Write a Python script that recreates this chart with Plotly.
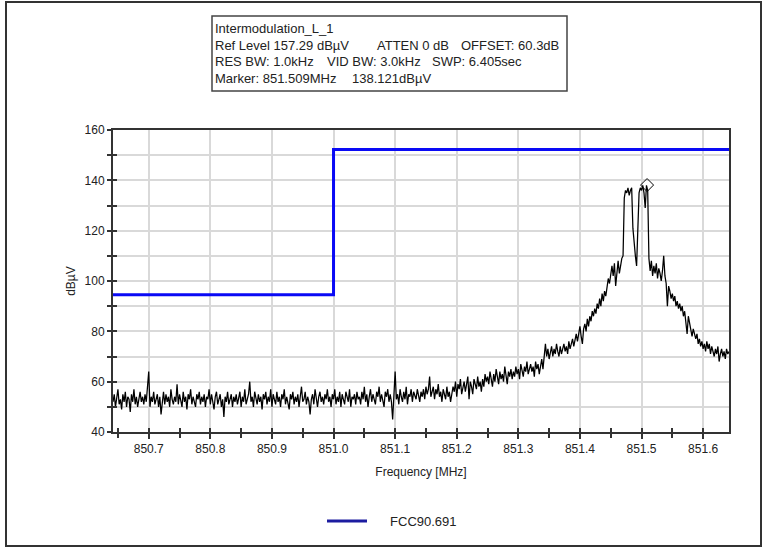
import plotly.graph_objects as go

# ---------------- data ----------------
freq_start = 850.642      # MHz, first sweep point
freq_step = 0.002         # MHz between sweep points

level_dbuv = [
    52, 55, 50, 54, 57, 51, 53, 49, 55, 52, 56, 50, 54, 53, 48, 55, 52, 57, 51, 54, 50, 53, 56, 52, 54,
    51, 55, 52, 57, 64, 50, 54, 52, 56, 51, 53, 55, 50, 54, 47, 53, 56, 51, 55, 52, 54, 50, 57, 53, 51,
    54, 52, 59, 51, 55, 53, 50, 56, 52, 54, 49, 55, 53, 57, 51, 54, 52, 50, 55, 53, 56, 51, 54, 52, 55,
    50, 54, 53, 57, 51, 55, 52, 49, 54, 56, 51, 53, 55, 50, 53, 46, 54, 52, 56, 51, 53, 55, 50, 54, 52,
    55, 51, 53, 56, 50, 54, 52, 57, 51, 53, 55, 60, 52, 54, 50, 56, 53, 51, 55, 52, 54, 49, 55, 53, 56,
    51, 54, 52, 57, 50, 55, 53, 51, 56, 52, 54, 50, 55, 53, 57, 51, 54, 52, 49, 55, 53, 56, 51, 54, 52,
    55, 50, 54, 58, 52, 53, 56, 51, 54, 52, 47, 53, 55, 51, 57, 53, 50, 54, 56, 52, 54, 51, 55, 53, 57,
    52, 54, 50, 55, 53, 57, 51, 54, 52, 56, 50, 55, 53, 51, 56, 54, 52, 57, 50, 54, 53, 55, 51, 56, 53,
    54, 51, 56, 53, 58, 52, 55, 50, 54, 57, 52, 55, 53, 51, 56, 54, 58, 52, 55, 53, 50, 56, 54, 57, 52,
    55, 52, 45, 56, 64, 53, 55, 51, 57, 54, 52, 56, 53, 58, 51, 55, 54, 57, 52, 56, 54, 53, 57, 55, 52,
    56, 54, 57, 53, 58, 55, 57, 62, 54, 56, 58, 53, 57, 55, 59, 54, 56, 52, 57, 55, 53, 58, 54, 56, 52,
    55, 58, 56, 60, 54, 59, 57, 61, 55, 58, 60, 56, 59, 62, 53, 60, 58, 55, 61, 59, 57, 62, 58, 60, 56,
    61, 58, 63, 60, 62, 59, 64, 61, 58, 63, 60, 65, 62, 59, 64, 61, 63, 60, 66, 62, 59, 64, 62, 65, 61,
    64, 62, 66, 63, 65, 61, 67, 64, 62, 66, 64, 68, 63, 65, 67, 64, 66, 62, 68, 65, 67, 63, 66, 69, 65,
    71, 75, 70, 73, 69, 72, 74, 70, 73, 71, 75, 72, 70, 74, 71, 73, 75, 72, 74, 71, 76, 73, 75, 77, 74,
    77, 79, 76, 80, 82, 78, 75, 81, 83, 80, 85, 82, 86, 84, 88, 86, 89, 87, 91, 89, 93, 90, 95, 92, 96,
    94, 98, 101, 99, 104, 106, 102, 107, 98, 105, 108, 103, 107, 109, 110, 133, 136, 135, 137, 134, 136, 137, 121, 114, 110,
    106, 118, 135, 137, 136, 138, 135, 129, 138, 136, 109, 104, 108, 102, 106, 103, 107, 101, 105, 103, 100, 104, 110, 102, 99,
    90, 98, 96, 93, 95, 92, 94, 90, 92, 89, 91, 88, 90, 86, 88, 84, 79, 86, 83, 80, 78, 81, 79, 77, 79,
    75, 77, 74, 76, 73, 75, 72, 76, 73, 75, 71, 74, 72, 70, 73, 71, 74, 68, 71, 73, 70, 72, 69, 73, 71,
    72,
]
freqs = [round(freq_start + i * freq_step, 4) for i in range(len(level_dbuv))]

limit_name = "FCC90.691"
limit_freq = [850.642, 851.0, 851.642]
limit_dbuv = [94.5, 152.3, 152.3]

marker_freq = [851.509]
marker_dbuv = [138.121]

x_tick_vals = [850.7, 850.8, 850.9, 851.0, 851.1, 851.2, 851.3, 851.4, 851.5, 851.6]
x_tick_text = ["850.7", "850.8", "850.9", "851.0", "851.1", "851.2", "851.3", "851.4", "851.5", "851.6"]
y_tick_vals = [40, 60, 80, 100, 120, 140, 160]

# info box text segments: (text, left pixel, row pixel)
info_segments = [
    ("Intermodulation_L_1", 213, 28),
    ("Ref Level 157.29 dBµV", 213, 45),
    ("ATTEN 0 dB", 375, 45),
    ("OFFSET: 60.3dB", 459, 45),
    ("RES BW: 1.0kHz", 213, 62),
    ("VID BW: 3.0kHz", 325, 62),
    ("SWP: 6.405sec", 430, 62),
    ("Marker: 851.509MHz", 213, 79),
    ("138.121dBµV", 350, 79),
]

# ---------------- layout geometry ----------------
W, H = 767, 548
ML, MR, MT, MB = 113, 38, 130, 116
PW, PH = W - ML - MR, H - MT - MB


def px(xp):
    return (xp - ML) / PW


def py(yp):
    return (H - MB - yp) / PH


FONT = "Liberation Sans, Arial, sans-serif"
X_RANGE = [850.642, 851.642]
Y_RANGE = [40, 160]

fig = go.Figure()

fig.add_trace(go.Scatter(
    x=freqs, y=level_dbuv, mode="lines",
    line=dict(color="black", width=1.25), showlegend=False, hoverinfo="skip"))

fig.add_trace(go.Scatter(
    x=limit_freq, y=limit_dbuv, mode="lines", line_shape="hv",
    line=dict(color="#0a0af5", width=3), showlegend=False, name=limit_name))

fig.add_trace(go.Scatter(
    x=marker_freq, y=marker_dbuv, mode="markers",
    marker=dict(symbol="diamond-open", size=10, color="black", line=dict(width=1)),
    showlegend=False))

# legend entry (legend key colour is darker navy in the reference)
fig.add_trace(go.Scatter(
    x=[None], y=[None], mode="lines", name="\u00a0\u00a0\u00a0\u00a0\u00a0" + limit_name,
    line=dict(color="#1c1ca0", width=3)))

# overlay axes to make ticks cross the axis lines
fig.add_trace(go.Scatter(x=[None], y=[None], xaxis="x2", yaxis="y2", showlegend=False))

tick_font = dict(family=FONT, size=12, color="#222")

fig.update_layout(
    width=W, height=H,
    margin=dict(l=ML, r=MR, t=MT, b=MB),
    paper_bgcolor="white", plot_bgcolor="white",
    font=dict(family=FONT, size=12, color="#222"),
    xaxis=dict(
        range=X_RANGE, tickvals=x_tick_vals, ticktext=x_tick_text,
        ticks="outside", ticklen=5, tickwidth=1.5, tickcolor="#333",
        tickfont=tick_font,
        showgrid=True, gridcolor="#d9d9d9", gridwidth=1.5,
        showline=True, linecolor="#333", linewidth=2, mirror=True,
        zeroline=False,
        minor=dict(dtick=0.05, tick0=850.65, ticks="outside", ticklen=4, tickwidth=1.5,
                   tickcolor="#333", showgrid=False),
        title=dict(text="Frequency [MHz]", font=dict(family=FONT, size=12, color="#222"), standoff=12),
    ),
    yaxis=dict(
        range=Y_RANGE, tickvals=y_tick_vals,
        ticks="outside", ticklen=4, tickwidth=1.5, tickcolor="#333",
        tickfont=tick_font,
        showgrid=True, gridcolor="#d9d9d9", gridwidth=1.5,
        showline=True, linecolor="#333", linewidth=2, mirror=True,
        zeroline=False,
        minor=dict(dtick=10, tick0=40, ticks="outside", ticklen=4, tickwidth=1.5,
                   tickcolor="#333", showgrid=True, gridcolor="#d9d9d9", gridwidth=1.5),
        title=dict(text="dBµV", font=dict(family=FONT, size=12, color="#222"), standoff=6),
    ),
    xaxis2=dict(
        range=X_RANGE, overlaying="x", anchor="y", side="bottom",
        tickvals=x_tick_vals, showticklabels=False,
        ticks="inside", ticklen=4, tickwidth=1.5, tickcolor="#333",
        showgrid=False, showline=False, zeroline=False,
        minor=dict(dtick=0.05, tick0=850.65, ticks="inside", ticklen=4, tickwidth=1.5,
                   tickcolor="#333", showgrid=False),
    ),
    yaxis2=dict(
        range=Y_RANGE, overlaying="y", anchor="x", side="left",
        tickvals=y_tick_vals, showticklabels=False,
        ticks="inside", ticklen=4, tickwidth=1.5, tickcolor="#333",
        showgrid=False, showline=False, zeroline=False,
        minor=dict(dtick=10, tick0=40, ticks="inside", ticklen=4, tickwidth=1.5,
                   tickcolor="#333", showgrid=False),
    ),
    legend=dict(
        orientation="h", x=px(322), y=py(521), xanchor="left", yanchor="middle",
        font=dict(family=FONT, size=13, color="#222"),
        bgcolor="rgba(0,0,0,0)", itemwidth=40,
    ),
    showlegend=True,
)

# outer frame and info box
fig.add_shape(type="rect", xref="paper", yref="paper",
              x0=px(6), x1=px(761), y0=py(546), y1=py(2),
              line=dict(color="#333", width=2), fillcolor="rgba(0,0,0,0)", layer="above")
fig.add_shape(type="rect", xref="paper", yref="paper",
              x0=px(212), x1=px(567), y0=py(91), y1=py(16),
              line=dict(color="#444", width=1.5), fillcolor="rgba(0,0,0,0)", layer="above")

for txt, xx, yy in info_segments:
    fig.add_annotation(text=txt, xref="paper", yref="paper", x=px(xx), y=py(yy),
                       xanchor="left", yanchor="middle", showarrow=False,
                       font=dict(family=FONT, size=13, color="#222"))

fig.write_html("out.html")
